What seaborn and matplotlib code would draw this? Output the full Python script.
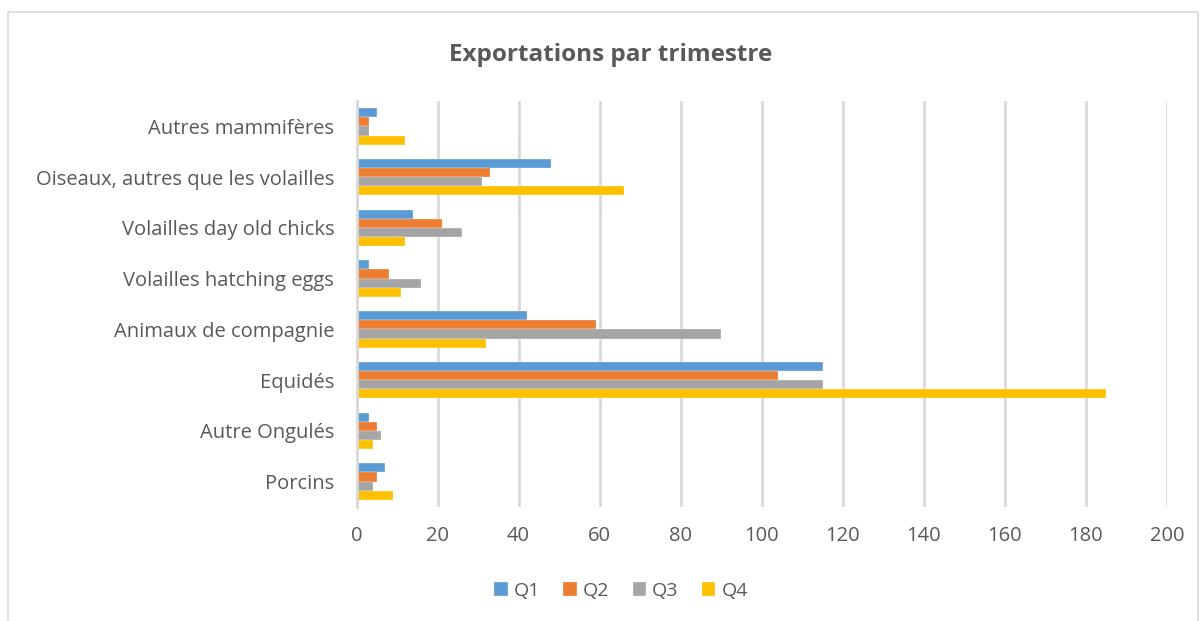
import matplotlib
matplotlib.use("Agg")
import matplotlib.pyplot as plt
from matplotlib.patches import Rectangle
import pandas as pd
import seaborn as sns

categories = [
    "Autres mammifères",
    "Oiseaux, autres que les volailles",
    "Volailles day old chicks",
    "Volailles hatching eggs",
    "Animaux de compagnie",
    "Equidés",
    "Autre Ongulés",
    "Porcins",
]
q1 = [5, 48, 14, 3, 42, 115, 3, 7]
q2 = [3, 33, 21, 8, 59, 104, 5, 5]
q3 = [3, 31, 26, 16, 90, 115, 6, 4]
q4 = [12, 66, 12, 11, 32, 185, 4, 9]
quarters = ["Q1", "Q2", "Q3", "Q4"]
colors = ["#5B9BD5", "#ED7D31", "#A5A5A5", "#FFC000"]
x_ticks = [0, 20, 40, 60, 80, 100, 120, 140, 160, 180, 200]

rows = []
for q, vals in zip(quarters, [q1, q2, q3, q4]):
    for cat, v in zip(categories, vals):
        rows.append({"Catégorie": cat, "Trimestre": q, "Valeur": v})
df = pd.DataFrame(rows)

sns.set_theme(style="white")
plt.rcParams["font.family"] = ["Open Sans", "DejaVu Sans"]
text_color = "#595959"
grid_color = "#D9D9D9"

fig = plt.figure(figsize=(12.02, 6.21), dpi=100)
ax = fig.add_axes([356.5 / 1202, 1 - 507 / 621, (1167 - 356.5) / 1202, (507 - 101) / 621])

sns.barplot(
    data=df, y="Catégorie", x="Valeur", hue="Trimestre",
    order=categories, hue_order=quarters, palette=colors,
    orient="h", width=0.72, ax=ax, errorbar=None, saturation=1,
    edgecolor="white", linewidth=0.2, legend=True,
)

ax.set_xlim(0, 200)
ax.set_xticks(x_ticks)
ax.set_xticklabels([str(t) for t in x_ticks])
ax.set_xlabel("")
ax.set_ylabel("")
ax.xaxis.grid(True, color=grid_color, linewidth=2)
ax.set_axisbelow(True)
for side in ["top", "right", "bottom"]:
    ax.spines[side].set_visible(False)
ax.spines["left"].set_color(grid_color)
ax.spines["left"].set_linewidth(2)
ax.tick_params(axis="both", length=0, colors=text_color, labelsize=14.5)
ax.tick_params(axis="y", pad=16)
ax.tick_params(axis="x", pad=14)

leg = ax.legend(
    loc="center", bbox_to_anchor=(621 / 1202, 1 - 591 / 621),
    bbox_transform=fig.transFigure, ncol=4, frameon=False,
    fontsize=14, handlelength=0.7, handleheight=0.7,
    handletextpad=0.3, columnspacing=1.2, labelcolor=text_color,
)

fig.text(611 / 1202, 1 - 55 / 621, "Exportations par trimestre",
         ha="center", va="center", fontsize=17.5, fontweight="bold",
         color=text_color)

fig.patches.append(Rectangle((8 / 1202, -0.05), 1190 / 1202, 1 - 12 / 621 + 0.05,
                             transform=fig.transFigure, fill=False,
                             edgecolor=grid_color, linewidth=1.2))

fig.savefig("out.png", dpi=100, facecolor="white")
